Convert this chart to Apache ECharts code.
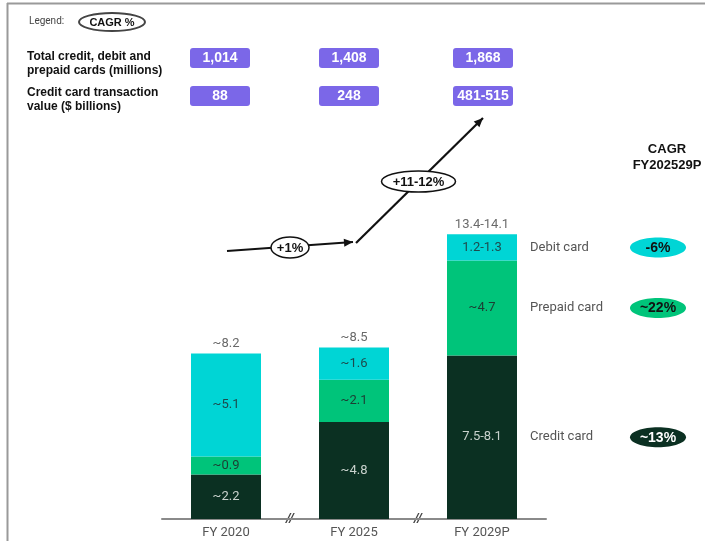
<!DOCTYPE html>
<html>
<head>
<meta charset="utf-8">
<script src="https://cdn.jsdelivr.net/npm/echarts@6/dist/echarts.min.js"></script>
<style>
  html, body { margin: 0; padding: 0; background: #fff; }
  #chart { width: 705px; height: 541px; }
</style>
</head>
<body>
<div id="chart"></div>
<script>
// Card payment volumes by type ($ trillions), FY2020 → FY2029P
const categories = ['FY 2020', 'FY 2025', 'FY 2029P'];
const creditValues = [2.2, 4.8, 8.1];
const prepaidValues = [0.9, 2.1, 4.7];
const debitValues = [5.1, 1.6, 1.3];
const creditLabels = ['~2.2', '~4.8', '7.5-8.1'];
const prepaidLabels = ['~0.9', '~2.1', '~4.7'];
const debitLabels = ['~5.1', '~1.6', '1.2-1.3'];
const totalLabels = ['~8.2', '~8.5', '13.4-14.1'];

// Header rows shown above each year
const cardCounts = ['1,014', '1,408', '1,868'];
const creditTxnValues = ['88', '248', '481-515'];

// Growth between years and CAGR per card type
const periodCagr = ['+1%', '+11-12%'];
const seriesNames = ['Credit card', 'Prepaid card', 'Debit card'];
const typeCagr = ['~13%', '~22%', '-6%'];

const COLORS = { credit: '#0B3022', prepaid: '#00C47A', debit: '#00D5D5' };
const FONT = 'Roboto, "Liberation Sans", sans-serif';
const BOLD_FONT = '"Liberation Sans", Arial, sans-serif';

const totals = categories.map((_, i) => +(creditValues[i] + prepaidValues[i] + debitValues[i]).toFixed(2));

function barSeries(name, values, labels, color, textColor) {
  return {
    name, type: 'bar', stack: 'total', barWidth: 70,
    data: values,
    itemStyle: { color },
    label: {
      show: true, position: 'inside',
      formatter: p => labels[p.dataIndex],
      color: textColor, fontFamily: FONT, fontSize: 13
    },
    emphasis: { disabled: true }
  };
}

const chart = echarts.init(document.getElementById('chart'), null, { renderer: 'canvas' });

chart.setOption({
  animation: false,
  backgroundColor: '#fff',
  grid: { left: 162, right: 159, top: 196, bottom: 22 },
  xAxis: {
    type: 'category', data: categories,
    axisLine: { lineStyle: { color: '#8a8a8a', width: 2 } },
    axisTick: { show: false },
    axisLabel: { color: '#555', fontFamily: FONT, fontSize: 13, margin: 7 }
  },
  yAxis: { type: 'value', min: 0, max: 16, show: false, splitLine: { show: false } },
  series: [
    barSeries('Credit card', creditValues, creditLabels, COLORS.credit, '#c9d2cd'),
    barSeries('Prepaid card', prepaidValues, prepaidLabels, COLORS.prepaid, '#1d3d33'),
    barSeries('Debit card', debitValues, debitLabels, COLORS.debit, '#1d4a4d'),
    {
      type: 'scatter', data: totals, symbolSize: 0, silent: true,
      label: {
        show: true, position: 'top', distance: 3,
        formatter: p => totalLabels[p.dataIndex],
        color: '#444', fontFamily: FONT, fontSize: 13
      }
    }
  ]
});

// Annotation layer positioned from the chart's own scales
const xPix = i => chart.convertToPixel({ xAxisIndex: 0 }, categories[i]);
const yPix = v => chart.convertToPixel({ yAxisIndex: 0 }, v);
const baseY = yPix(0);
const g = [];

// frame
g.push({ type: 'line', shape: { x1: 7, y1: 3.5, x2: 705, y2: 3.5 }, style: { stroke: '#9a9a9a', lineWidth: 2 } });
g.push({ type: 'line', shape: { x1: 7.5, y1: 3, x2: 7.5, y2: 541 }, style: { stroke: '#9a9a9a', lineWidth: 2 } });

// legend key
g.push({ type: 'text', x: 29, y: 21, style: { text: 'Legend:', font: '10px ' + FONT, fill: '#444', verticalAlign: 'middle' } });
g.push({ type: 'ellipse', shape: { cx: 112, cy: 22, rx: 33, ry: 9 }, style: { fill: '#fff', stroke: '#444', lineWidth: 2 } });
g.push({ type: 'text', x: 112, y: 22.5, style: { text: 'CAGR %', font: 'bold 11px ' + BOLD_FONT, fill: '#111', align: 'center', verticalAlign: 'middle' } });

// header row titles
g.push({ type: 'text', x: 27, y: 50, style: { text: 'Total credit, debit and\nprepaid cards (millions)', font: 'bold 12px ' + BOLD_FONT, fill: '#111', lineHeight: 14 } });
g.push({ type: 'text', x: 27, y: 86, style: { text: 'Credit card transaction\nvalue ($ billions)', font: 'bold 12px ' + BOLD_FONT, fill: '#111', lineHeight: 14 } });

// header value boxes
const boxOffsets = [-6, -5, 1];
function valueBox(i, text, top) {
  const cx = xPix(i) + boxOffsets[i];
  g.push({ type: 'rect', shape: { x: cx - 30, y: top, width: 60, height: 20, r: 3 }, style: { fill: '#7B67E8' } });
  g.push({ type: 'text', x: cx, y: top + 10.5, style: { text, font: 'bold 14px ' + BOLD_FONT, fill: '#fff', align: 'center', verticalAlign: 'middle' } });
}
cardCounts.forEach((t, i) => valueBox(i, t, 48));
creditTxnValues.forEach((t, i) => valueBox(i, t, 86));

// growth arrow
function arrow(x1, y1, x2, y2) {
  g.push({ type: 'line', shape: { x1, y1, x2, y2 }, style: { stroke: '#111', lineWidth: 2.2 } });
  const a = Math.atan2(y2 - y1, x2 - x1), L = 9, W = 4;
  const bx = x2 - L * Math.cos(a), by = y2 - L * Math.sin(a);
  g.push({ type: 'polygon', shape: { points: [[x2, y2], [bx + W * Math.sin(a), by - W * Math.cos(a)], [bx - W * Math.sin(a), by + W * Math.cos(a)]] }, style: { fill: '#111' } });
}
const p0 = [xPix(0) + 1, 251], p1 = [xPix(1) - 1, 242], p2 = [xPix(1) + 2, 243], p3 = [xPix(2) + 1, 118];
arrow(p0[0], p0[1], p1[0], p1[1]);
arrow(p2[0], p2[1], p3[0], p3[1]);
function cagrBubble(cx, cy, rx, text) {
  g.push({ type: 'ellipse', shape: { cx, cy, rx, ry: 10.5 }, style: { fill: '#fff', stroke: '#111', lineWidth: 1.5 } });
  g.push({ type: 'text', x: cx, y: cy + 0.5, style: { text, font: 'bold 13px ' + BOLD_FONT, fill: '#111', align: 'center', verticalAlign: 'middle' } });
}
cagrBubble((p0[0] + p1[0]) / 2, (p0[1] + p1[1]) / 2 + 1, 19, periodCagr[0]);
cagrBubble((p2[0] + p3[0]) / 2 - 1, (p2[1] + p3[1]) / 2 + 1, 37, periodCagr[1]);

// axis break marks between years
[0, 1].forEach(i => {
  const mx = (xPix(i) + xPix(i + 1)) / 2;
  g.push({ type: 'text', x: mx, y: baseY, style: { text: '//', font: 'italic bold 13px ' + FONT, fill: '#444', align: 'center', verticalAlign: 'middle' } });
});

// right-hand CAGR column
g.push({ type: 'text', x: 667, y: 141, style: { text: 'CAGR\nFY202529P', font: 'bold 13px ' + BOLD_FONT, fill: '#111', align: 'center', lineHeight: 16 } });
const last = categories.length - 1;
const stacks = [creditValues, prepaidValues, debitValues];
const pillColors = [COLORS.credit, COLORS.prepaid, COLORS.debit];
const pillText = ['#fff', '#111', '#111'];
let cum = 0;
stacks.forEach((vals, s) => {
  const mid = yPix(cum + vals[last] / 2);
  cum += vals[last];
  g.push({ type: 'text', x: 530, y: mid, style: { text: seriesNames[s], font: '13px ' + FONT, fill: '#555', verticalAlign: 'middle' } });
  g.push({ type: 'ellipse', shape: { cx: 658, cy: mid, rx: 28, ry: 10 }, style: { fill: pillColors[s] } });
  g.push({ type: 'text', x: 658, y: mid + 0.5, style: { text: typeCagr[s], font: 'bold 14px ' + BOLD_FONT, fill: pillText[s], align: 'center', verticalAlign: 'middle' } });
});

chart.setOption({ graphic: { elements: g } });
</script>
</body>
</html>
